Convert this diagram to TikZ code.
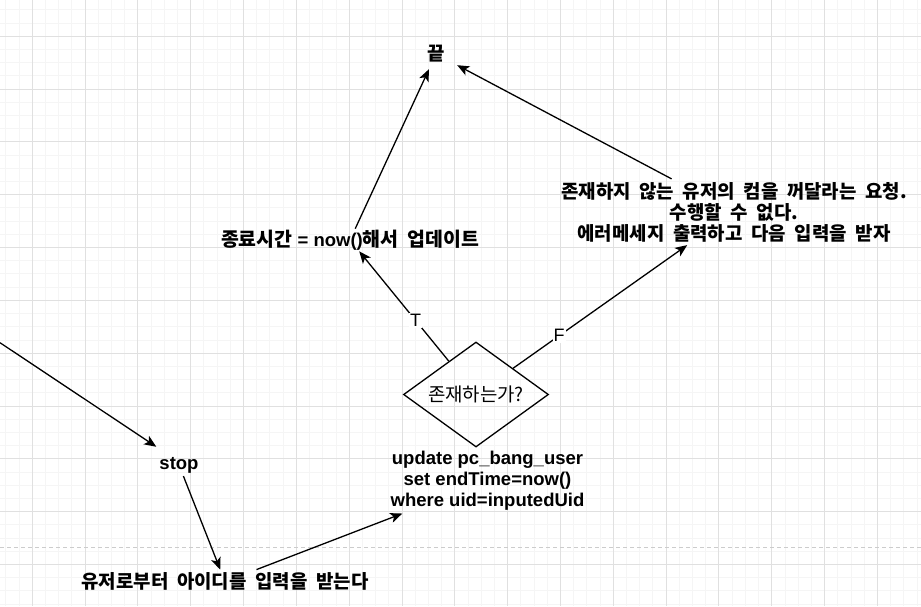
\documentclass[tikz,border=0pt]{standalone}
\usepackage{fontspec}
\setmainfont{Liberation Sans}
\newfontfamily\kr[Scale=1.05,WordSpace=2]{Noto Sans CJK KR}
\usepackage{tikz}
\usetikzlibrary{shapes.geometric,arrows.meta}

\begin{document}
\begin{tikzpicture}[x=1pt,y=-1pt,
	txt/.style={font=\bfseries\fontsize{18.5}{21}\selectfont, align=center, inner sep=3pt},
	krtxt/.style={txt, font=\bfseries\kr\fontsize{18}{21}\selectfont},
	tf/.style={font=\fontsize{18}{21}\selectfont, fill=white, inner sep=1pt},
	cond/.style={diamond, draw, line width=1.3pt, shape aspect=1.38, minimum width=145pt, minimum height=105pt, inner sep=0pt, font=\kr\fontsize{18}{21}\selectfont},
	arr/.style={line width=1.3pt, -{Stealth[length=12pt,width=10pt,inset=3pt]}},
	minorgrid/.style={black!4, line width=1pt},
	majorgrid/.style={black!12, line width=1pt}]
		\useasboundingbox (0,0) rectangle (921,606);
		\fill[white] (0,0) rectangle (921,606);
		% grid
		\foreach \i in {0,...,69}{
			\draw[minorgrid] (5.85+13.206*\i,0) -- (5.85+13.206*\i,606);
		}
		\foreach \j in {0,...,45}{
			\draw[minorgrid] (0,9.85+13.206*\j) -- (921,9.85+13.206*\j);
		}
		\foreach \i in {0,...,16}{
			\draw[majorgrid] (32.3+52.82*\i,0) -- (32.3+52.82*\i,606);
		}
		\foreach \j in {0,...,10}{
			\draw[majorgrid] (0,36.3+52.82*\j) -- (921,36.3+52.82*\j);
		}
		\draw[black!20, line width=1.3pt, dash pattern=on 4pt off 3pt] (0,547.5) -- (921,547.5);
		
		\node[krtxt, minimum width=42pt, minimum height=30pt] (fin) at (436,54) {끝};
		\node[txt, inner sep=1pt] (upd) at (350,240) {{\kr 종료시간} = now(){\kr 해서 업데이트}};
		\node[krtxt] (err) at (734,212) {존재하지 않는 유저의 컴을 꺼달라는 요청.\\수행할 수 없다.\\에러메세지 출력하고 다음 입력을 받자};
		\node[cond] (exist) at (476,394.5) {존재하는가?};
		\node[txt] (sql) at (487.5,480.7) {update pc\_bang\_user\\set endTime=now()\\where uid=inputedUid};
		\node[txt] (stop) at (179,464.9) {stop};
		\node[krtxt] (inp) at (225,581.7) {유저로부터 아이디를 입력을 받는다};
		\coordinate (src) at (0,342.7);
		
		% connectors
		\draw[arr] (src) -- ([yshift=7pt]stop.north west);
		\draw[arr] (stop) -- (inp);
		\draw[arr] (inp) -- (sql);
		\draw[arr] (exist) -- node[tf, pos=0.37] {T} (upd);
		\draw[arr] (exist) -- node[tf, pos=0.265] {F} (err);
		\draw[arr] (upd) -- (fin);
		\draw[arr] (err) -- (fin);
		
\end{tikzpicture}
\end{document}
